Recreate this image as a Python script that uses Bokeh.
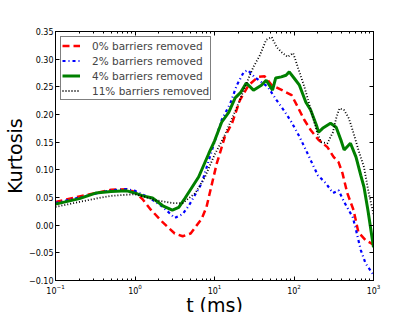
from bokeh.plotting import figure
from bokeh.models import (LogAxis, LinearAxis, FixedTicker, LogTicker, Legend,
                          LegendItem, CustomJSTickFormatter, Range1d)
from bokeh.embed import file_html
from bokeh.resources import INLINE

# ---- data (t in ms, kurtosis) ----
t_0 = [0.1, 0.2, 0.32, 0.5, 0.79, 1.0, 1.26, 1.58, 2.24, 3.16, 3.98, 5.01, 6.92, 7.94,
       9.33, 10.7, 11.7, 13.5, 16.6, 20.9, 26.9, 35.5, 42.7, 52.5, 70.8, 93.3, 112, 135,
       162, 204, 263, 316, 363, 407, 468, 562, 646, 794, 1000]
k_0 = [0.042, 0.052, 0.058, 0.064, 0.065, 0.060, 0.046, 0.028, 0.005, -0.015, -0.020,
       -0.015, 0.012, 0.033, 0.076, 0.112, 0.130, 0.160, 0.184, 0.226, 0.253, 0.268,
       0.269, 0.253, 0.244, 0.235, 0.213, 0.190, 0.172, 0.154, 0.141, 0.123, 0.114,
       0.094, 0.058, 0.027, -0.013, -0.027, -0.035]

t_2 = [0.1, 0.2, 0.32, 0.5, 0.79, 1.0, 1.26, 1.51, 2.24, 3.16, 3.98, 4.79, 6.92, 8.51,
       10.0, 12.3, 15.8, 19.1, 23.4, 26.3, 31.6, 46.8, 60.3, 74.1, 93.3, 117, 141, 174,
       200, 251, 309, 363, 427, 550, 603, 692, 794, 1000]
k_2 = [0.040, 0.050, 0.057, 0.063, 0.065, 0.062, 0.055, 0.050, 0.033, 0.013, 0.020,
       0.036, 0.076, 0.118, 0.150, 0.190, 0.220, 0.253, 0.277, 0.280, 0.268, 0.250,
       0.226, 0.208, 0.186, 0.160, 0.136, 0.108, 0.090, 0.076, 0.058, 0.063, 0.042,
       0.014, -0.009, -0.045, -0.069, -0.090]

t_4 = [0.1, 0.2, 0.32, 0.5, 0.79, 1.0, 1.26, 1.66, 2.24, 2.95, 3.55, 4.27, 6.31, 8.51,
       10.0, 12.3, 15.1, 18.2, 21.4, 25.1, 30.9, 38.9, 44.7, 53.7, 58.9, 69.2, 79.4,
       87.1, 100, 117, 141, 162, 191, 204, 229, 288, 339, 389, 427, 513, 603, 692, 759,
       851, 1000]
k_4 = [0.038, 0.048, 0.058, 0.061, 0.062, 0.058, 0.053, 0.049, 0.035, 0.027, 0.032,
       0.049, 0.087, 0.130, 0.152, 0.186, 0.204, 0.230, 0.240, 0.257, 0.244, 0.253,
       0.262, 0.244, 0.266, 0.268, 0.271, 0.277, 0.266, 0.253, 0.222, 0.208, 0.181,
       0.168, 0.175, 0.184, 0.177, 0.154, 0.136, 0.148, 0.123, 0.090, 0.069, 0.027,
       -0.040]

t_11 = [0.1, 0.2, 0.32, 0.5, 0.79, 1.0, 1.26, 1.82, 2.95, 3.98, 5.75, 7.59, 10.0, 13.2,
        19.1, 26.9, 30.9, 37.2, 44.7, 52.5, 60.3, 69.2, 83.2, 97.7, 112, 135, 155, 174,
        195, 219, 263, 309, 339, 372, 427, 490, 562, 646, 759, 871, 1000]
k_11 = [0.033, 0.042, 0.048, 0.053, 0.055, 0.056, 0.052, 0.045, 0.040, 0.040, 0.058,
        0.087, 0.127, 0.160, 0.213, 0.266, 0.286, 0.307, 0.335, 0.340, 0.322, 0.313,
        0.304, 0.311, 0.285, 0.250, 0.220, 0.193, 0.168, 0.150, 0.148, 0.168, 0.193,
        0.211, 0.208, 0.193, 0.166, 0.136, 0.105, 0.058, 0.020]

labels = ["0% barriers removed", "2% barriers removed",
          "4% barriers removed", "11% barriers removed"]
y_ticks = [-0.10, -0.05, 0.0, 0.05, 0.10, 0.15, 0.20, 0.25, 0.30, 0.35]
x_title = "t (ms)"
y_title = "Kurtosis"

FONT = "DejaVu Sans"

p = figure(width=415, height=320, x_axis_type="log",
           x_range=Range1d(0.1, 1000), y_range=Range1d(-0.10, 0.35),
           output_backend="svg", toolbar_location=None,
           min_border_left=52, min_border_right=42,
           min_border_top=31, min_border_bottom=40)
p.grid.visible = False
p.outline_line_color = "black"
p.outline_line_width = 1
p.outline_line_alpha = 1
p.background_fill_color = "white"
p.border_fill_color = "white"

r0 = p.line(t_0, k_0, line_color="#ff0000", line_width=2.5, line_dash="7 4")
r2 = p.line(t_2, k_2, line_color="#0000ff", line_width=2.2, line_dash="3 3 1 3")
r4 = p.line(t_4, k_4, line_color="#008000", line_width=3)
r11 = p.line(t_11, k_11, line_color="#000000", line_width=1.8, line_dash="1 2")

yfmt = CustomJSTickFormatter(code="return tick.toFixed(2).replace('-', '\u2212');")

def style_x(ax, show):
    ax.ticker = LogTicker(num_minor_ticks=10)
    ax.major_tick_in = 4
    ax.major_tick_out = 0
    ax.minor_tick_in = 2
    ax.minor_tick_out = 0
    ax.major_tick_line_color = "black"
    ax.minor_tick_line_color = "black"
    ax.axis_line_color = "black"
    ax.major_label_text_font = FONT
    ax.major_label_text_color = "black"
    if show:
        ax.major_label_text_font_size = "8px"
        ax.major_label_standoff = 3
        ax.axis_label = x_title
        ax.axis_label_standoff = -3
        ax.axis_label_text_font = FONT
        ax.axis_label_text_font_size = "19px"
        ax.axis_label_text_font_style = "normal"
        ax.axis_label_text_color = "black"
    else:
        ax.major_label_text_font_size = "0px"
        ax.major_label_text_color = None
        ax.major_label_standoff = 0

def style_y(ax, show):
    ax.ticker = FixedTicker(ticks=y_ticks)
    ax.formatter = yfmt
    ax.major_tick_in = 4
    ax.major_tick_out = 0
    ax.minor_tick_in = 0
    ax.minor_tick_out = 0
    ax.major_tick_line_color = "black"
    ax.axis_line_color = "black"
    ax.major_label_text_font = FONT
    ax.major_label_text_color = "black"
    if show:
        ax.major_label_text_font_size = "8px"
        ax.major_label_standoff = 2
        ax.axis_label = y_title
        ax.axis_label_standoff = 0
        ax.axis_label_text_font = FONT
        ax.axis_label_text_font_size = "19px"
        ax.axis_label_text_font_style = "normal"
        ax.axis_label_text_color = "black"
    else:
        ax.major_label_text_font_size = "0px"
        ax.major_label_text_color = None
        ax.major_label_standoff = 0

style_x(p.xaxis[0], True)
style_y(p.yaxis[0], True)
top = LogAxis()
style_x(top, False)
p.add_layout(top, "above")
right = LinearAxis()
style_y(right, False)
p.add_layout(right, "right")

legend = Legend(items=[LegendItem(label=labels[0], renderers=[r0]),
                       LegendItem(label=labels[1], renderers=[r2]),
                       LegendItem(label=labels[2], renderers=[r4]),
                       LegendItem(label=labels[3], renderers=[r11])],
                location="top_left", margin=5, padding=1, spacing=0,
                glyph_width=18, glyph_height=15, label_height=15,
                label_standoff=12, label_text_font=FONT,
                label_text_font_size="10.5px", border_line_color="black",
                border_line_width=1, background_fill_color="white",
                background_fill_alpha=1)
p.add_layout(legend)

open("out.html", "w").write(file_html(p, INLINE))
